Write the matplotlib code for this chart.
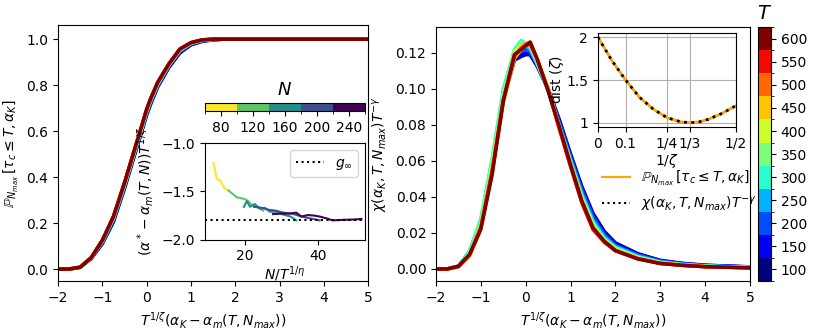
import numpy as np
import matplotlib
matplotlib.use('Agg')
import matplotlib.pyplot as plt
from matplotlib.colors import BoundaryNorm
from matplotlib.cm import ScalarMappable
from matplotlib.lines import Line2D

# temperaturas y rejilla común en x
T_vals = [100, 150, 200, 250, 300, 350, 400, 450, 500, 550, 600]
xs = [-2, -1.75, -1.5, -1.25, -1, -0.75, -0.5, -0.25, -0.1, 0, 0.1, 0.25,
      0.5, 0.75, 1, 1.25, 1.5, 1.75, 2, 2.5, 3, 3.5, 4, 5]

# probabilidad acumulada (panel izquierdo), una fila por T
prob = [
    [0, 0, .008, .046, .110, .205, .350, .510, .605, .670, .722, .792, .876, .940, .975, .990, .997, 1, 1, 1, 1, 1, 1, 1],
    [0, 0, .008, .047, .113, .210, .355, .515, .610, .675, .727, .796, .879, .944, .977, .992, .998, 1, 1, 1, 1, 1, 1, 1],
    [0, 0, .008, .048, .116, .214, .359, .519, .614, .679, .731, .799, .882, .947, .979, .993, .998, 1, 1, 1, 1, 1, 1, 1],
    [0, 0, .008, .049, .119, .218, .363, .523, .618, .683, .735, .802, .885, .950, .981, .994, .999, 1, 1, 1, 1, 1, 1, 1],
    [0, 0, .008, .050, .121, .221, .366, .526, .621, .686, .738, .805, .887, .952, .982, .995, .999, 1, 1, 1, 1, 1, 1, 1],
    [0, 0, .008, .050, .123, .224, .369, .529, .624, .689, .741, .807, .889, .954, .983, .996, 1, 1, 1, 1, 1, 1, 1, 1],
    [0, 0, .008, .050, .124, .226, .371, .531, .626, .691, .743, .809, .890, .955, .984, .996, 1, 1, 1, 1, 1, 1, 1, 1],
    [0, 0, .008, .050, .125, .227, .373, .533, .628, .693, .745, .811, .891, .956, .985, .997, 1, 1, 1, 1, 1, 1, 1, 1],
    [0, 0, .008, .050, .125, .228, .375, .535, .630, .695, .746, .812, .892, .957, .985, .997, 1, 1, 1, 1, 1, 1, 1, 1],
    [0, 0, .008, .050, .125, .228, .375, .535, .630, .695, .746, .812, .892, .957, .985, .997, 1, 1, 1, 1, 1, 1, 1, 1],
    [0, 0, .008, .050, .125, .228, .375, .535, .630, .695, .746, .812, .892, .957, .985, .997, 1, 1, 1, 1, 1, 1, 1, 1],
]

# susceptibilidad reescalada (panel derecho)
chi = [
    [0, 0, .0015, .009, .025, .056, .094, .116, .118, .119, .119, .113, .100, .083, .064, .046, .031, .021, .0145, .0085, .0048, .0031, .0021, .0012],
    [0, 0, .0015, .009, .025, .056, .094, .117, .119, .120, .119, .113, .100, .082, .063, .045, .030, .020, .0140, .0082, .0046, .0030, .0020, .0011],
    [0, 0, .0015, .009, .025, .057, .095, .118, .121, .122, .121, .114, .100, .081, .062, .044, .029, .019, .0130, .0078, .0043, .0028, .0019, .0010],
    [0, 0, .0015, .010, .027, .060, .098, .121, .125, .124, .122, .114, .099, .080, .061, .042, .027, .018, .0125, .0072, .0040, .0026, .0017, .0009],
    [0, 0, .0015, .010, .028, .061, .100, .122, .127, .125, .123, .115, .099, .079, .060, .041, .026, .017, .0120, .0068, .0038, .0024, .0016, .0008],
    [0, 0, .0015, .009, .026, .059, .097, .121, .126, .125, .124, .115, .100, .079, .059, .040, .025, .0165, .0115, .0065, .0036, .0023, .0015, .0008],
    [0, 0, .0012, .008, .024, .056, .095, .120, .124, .125, .125, .116, .100, .079, .058, .039, .024, .016, .0110, .0062, .0034, .0022, .0014, .0007],
    [0, 0, .0010, .007, .022, .053, .092, .117, .122, .124, .125, .117, .100, .078, .058, .038, .023, .0155, .0105, .0060, .0033, .0021, .0013, .0007],
    [0, 0, .0012, .008, .023, .054, .093, .118, .123, .125, .126, .117, .100, .078, .057, .037, .022, .015, .0102, .0058, .0032, .0020, .0013, .0006],
    [0, 0, .0015, .008, .023, .054, .094, .119, .122, .124, .125, .117, .099, .078, .057, .037, .022, .015, .0100, .0056, .0031, .0020, .0012, .0006],
    [0, 0, .0015, .008, .022, .052, .093, .119, .122, .124, .126, .117, .099, .079, .058, .038, .023, .0155, .0103, .0056, .0030, .0020, .0013, .0006],
]

# inset izquierdo: curvas por N
N_vals = [80, 120, 160, 200, 240]
ins_x = [
    [11.35, 12.28, 13.18, 14.35, 15.44],
    [15.44, 16.4, 17.7, 20.0, 20.9, 21.8, 23.5, 25.0],
    [19.7, 20.5, 21.4, 22.7, 24.1, 25.5, 26.8, 28.5, 30.5, 32.5, 34.1],
    [22.5, 24.5, 26.5, 28.5, 30.5, 33.0, 35.5, 38.0, 40.5],
    [27.7, 30.0, 32.3, 34.1, 35.5, 37.3, 39.0, 40.5, 42.5, 44.1, 46.8, 50.5, 52.0],
]
ins_y = [
    [-1.207, -1.373, -1.387, -1.466, -1.49],
    [-1.49, -1.52, -1.56, -1.58, -1.60, -1.64, -1.66, -1.70],
    [-1.66, -1.60, -1.66, -1.63, -1.68, -1.67, -1.71, -1.71, -1.74, -1.76, -1.80],
    [-1.66, -1.67, -1.69, -1.70, -1.72, -1.73, -1.76, -1.78, -1.80],
    [-1.735, -1.73, -1.73, -1.72, -1.76, -1.745, -1.75, -1.76, -1.78, -1.80, -1.795, -1.79, -1.785],
]
g_inf = -1.80

# inset derecho: dist(zeta)
inv_zeta = [0, 0.05, 0.1, 0.15, 0.2, 0.25, 0.3, 1/3, 0.367, 0.4, 0.45, 0.5]
dist = [2.0, 1.73, 1.5, 1.3, 1.16, 1.06, 1.01, 1.0, 1.01, 1.04, 1.11, 1.2]

cmap_T = plt.get_cmap('jet', len(T_vals))
norm_T = BoundaryNorm(np.arange(75, 626, 50), cmap_T.N)
cmap_N = plt.get_cmap('viridis_r', len(N_vals))
norm_N = BoundaryNorm(np.arange(60, 261, 40), cmap_N.N)

fig = plt.figure(figsize=(8.14, 3.31), dpi=100)

ax1 = fig.add_axes([0.0713, 0.151, 0.381, 0.773])
ax2 = fig.add_axes([0.5356, 0.151, 0.3857, 0.767])
cax = fig.add_axes([0.931, 0.151, 0.016, 0.767])
axi = fig.add_axes([0.2518, 0.2758, 0.1966, 0.292])
caxN = fig.add_axes([0.2518, 0.6647, 0.1966, 0.0242])
axd = fig.add_axes([0.7346, 0.6163, 0.1695, 0.284])

for i, T in enumerate(T_vals):
    c = cmap_T(norm_T(T))
    ax1.plot(xs, prob[i], color=c, lw=2.5)
    ax2.plot(xs, chi[i], color=c, lw=2.5)

ax1.set_xlim(-2, 5)
ax1.set_ylim(-0.052, 1.061)
ax1.set_xlabel(r'$T^{1/\zeta}(\alpha_K - \alpha_m(T, N_{max}))$')
ax1.set_ylabel(r'$\mathbb{P}_{N_{max}}\,[\tau_c \leq T, \alpha_K]$')

ax2.set_xlim(-2, 5)
ax2.set_ylim(-0.0067, 0.1343)
ax2.set_xlabel(r'$T^{1/\zeta}(\alpha_K - \alpha_m(T, N_{max}))$')
ax2.set_ylabel(r'$\chi(\alpha_K, T, N_{max})T^{-\gamma}$')

handles = [Line2D([], [], color='orange', lw=1.5),
           Line2D([], [], color='black', ls=':', lw=1.5)]
ax2.legend(handles, [r'$\mathbb{P}_{N_{max}}\,[\tau_c \leq T, \alpha_K]$',
                     r'$\chi(\alpha_K, T, N_{max})T^{-\gamma}$'],
           loc='center left', bbox_to_anchor=(0.49, 0.354), frameon=False)

cb = fig.colorbar(ScalarMappable(norm=norm_T, cmap=cmap_T), cax=cax, ticks=T_vals)
cax.set_title(r'$T$', fontsize=14)

# inset izquierdo
for j, N in enumerate(N_vals):
    axi.plot(ins_x[j], ins_y[j], color=cmap_N(norm_N(N)), lw=1.5)
axi.axhline(g_inf, color='black', ls=':', lw=1.5, label=r'$g_\infty$')
axi.set_xlim(9, 53)
axi.set_ylim(-2, -1)
axi.set_yticks([-2, -1.5, -1])
axi.set_xticks([20, 40])
axi.set_xlabel(r'$N/T^{1/\eta}$', labelpad=1)
axi.set_ylabel(r'$(\alpha^* - \alpha_m(T,N))T^{1/\zeta}$')
axi.legend(loc='upper right')

cbN = fig.colorbar(ScalarMappable(norm=norm_N, cmap=cmap_N), cax=caxN,
                   orientation='horizontal', ticks=N_vals)
caxN.set_title(r'$N$', fontsize=13)

# inset derecho
axd.plot(inv_zeta, dist, color='orange', lw=2)
axd.plot(inv_zeta, dist, color='black', ls=':', lw=2)
axd.set_xlim(0, 0.5)
axd.set_ylim(0.95, 2.05)
axd.set_xticks([0, 0.1, 0.25, 1/3, 0.5])
axd.set_xticklabels(['0', '0.1', '1/4', '1/3', '1/2'])
axd.set_yticks([1, 1.5, 2])
axd.set_yticklabels(['1', '1.5', '2'])
axd.grid(True)
axd.set_xlabel(r'$1/\zeta$', labelpad=1)
axd.set_ylabel(r'dist $(\zeta)$', labelpad=0)

fig.savefig('out.png', dpi=100)
